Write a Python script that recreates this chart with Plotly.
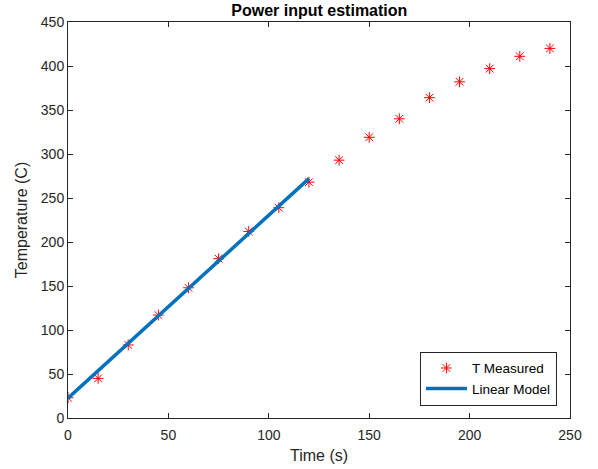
import plotly.graph_objects as go

time_s = [0, 15, 30, 45, 60, 75, 90, 105, 120, 135, 150, 165, 180, 195, 210, 225, 240]
temp_measured = [23, 45, 83, 117, 148, 181, 212, 239, 268, 293, 319, 340, 364, 382, 397, 411, 420]

model_time = [0, 120]
model_temp = [22.5, 272]

fig = go.Figure()
fig.add_trace(go.Scatter(
    x=time_s, y=temp_measured, mode="markers", name="T Measured",
    marker=dict(symbol="asterisk-open", size=9, color="#FF0000",
                line=dict(color="#FF0000", width=1)),
))
fig.add_trace(go.Scatter(
    x=model_time, y=model_temp, mode="lines", name="Linear Model",
    line=dict(color="#0072BD", width=3.5),
))

axis_common = dict(
    showline=True, linecolor="#262626", linewidth=1, mirror="ticks",
    ticks="inside", ticklen=5, tickcolor="#262626", showgrid=False,
    zeroline=False, tickfont=dict(size=14, color="#262626"), automargin=False,
)

fig.update_layout(
    width=598, height=469,
    margin=dict(l=68, r=28, t=22, b=51),
    paper_bgcolor="white", plot_bgcolor="white",
    font=dict(family="Liberation Sans, Arial, sans-serif", color="#262626"),
    title=dict(text="<b>Power input estimation</b>", x=0.534, xanchor="center",
               y=0.978, yanchor="middle", font=dict(size=16, color="#000000")),
    xaxis=dict(range=[0, 250], tickvals=[0, 50, 100, 150, 200, 250],
               ticklabelstandoff=4,
               title=dict(text="Time (s)", font=dict(size=16), standoff=8),
               **axis_common),
    yaxis=dict(range=[0, 450], tickvals=list(range(0, 451, 50)),
               title=dict(text="Temperature (C)", font=dict(size=16), standoff=9),
               **axis_common),
    legend=dict(x=0.974, y=0.031, xanchor="right", yanchor="bottom",
                bgcolor="white", bordercolor="#262626", borderwidth=1,
                font=dict(size=13.5, color="#000000"), tracegroupgap=0,
                itemwidth=41),
    showlegend=True,
)

fig.write_html("out.html")
